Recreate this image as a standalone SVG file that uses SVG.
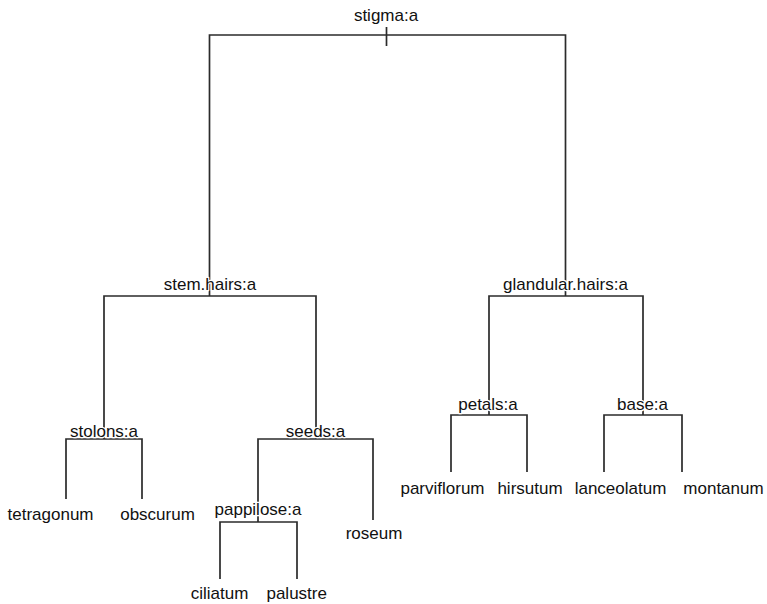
<svg xmlns="http://www.w3.org/2000/svg" width="767" height="604" viewBox="0 0 767 604">
<style>
.e{stroke:#2b2b2b;stroke-width:1.7;fill:none;stroke-linecap:butt}
text{font-family:"Liberation Sans",Arial,Helvetica,sans-serif;font-size:17px;fill:#111;text-anchor:middle;stroke:#fff;stroke-width:2.6;stroke-linejoin:round;paint-order:stroke fill}
</style>
<rect width="767" height="604" fill="#fff"/>
<g id="connectors">
<path class="e" d="M386.5 27V46"/>
<path class="e" d="M209.5 296V35H565.5V296"/>
<path class="e" d="M104 439V296H316V439"/>
<path class="e" d="M66 499V439H142V499"/>
<path class="e" d="M258 522V439H373V520"/>
<path class="e" d="M220 579V522H297V579"/>
<path class="e" d="M489 415V296H643V415"/>
<path class="e" d="M451 472V415H527V472"/>
<path class="e" d="M604 472V415H682V472"/>
</g>
<g id="n-stigma"><text x="386" y="21">stigma:a</text></g>
<g id="n-stemhairs"><text x="210" y="290">stem.hairs:a</text></g>
<g id="n-glandular"><text x="565.5" y="290">glandular.hairs:a</text></g>
<g id="n-stolons"><text x="104" y="437">stolons:a</text></g>
<g id="n-seeds"><text x="315.5" y="437">seeds:a</text></g>
<g id="n-pappilose"><text x="258" y="515">pappilose:a</text></g>
<g id="n-petals"><text x="488" y="410">petals:a</text></g>
<g id="n-base"><text x="642.5" y="410">base:a</text></g>
<g id="n-tetragonum"><text x="50.5" y="520">tetragonum</text></g>
<g id="n-obscurum"><text x="157.5" y="520">obscurum</text></g>
<g id="n-roseum"><text x="374" y="539">roseum</text></g>
<g id="n-ciliatum"><text x="219.5" y="599">ciliatum</text></g>
<g id="n-palustre"><text x="296.7" y="599">palustre</text></g>
<g id="n-parviflorum"><text x="442.5" y="494">parviflorum</text></g>
<g id="n-hirsutum"><text x="530" y="494">hirsutum</text></g>
<g id="n-lanceolatum"><text x="620.5" y="494">lanceolatum</text></g>
<g id="n-montanum"><text x="723.5" y="494">montanum</text></g>
</svg>
